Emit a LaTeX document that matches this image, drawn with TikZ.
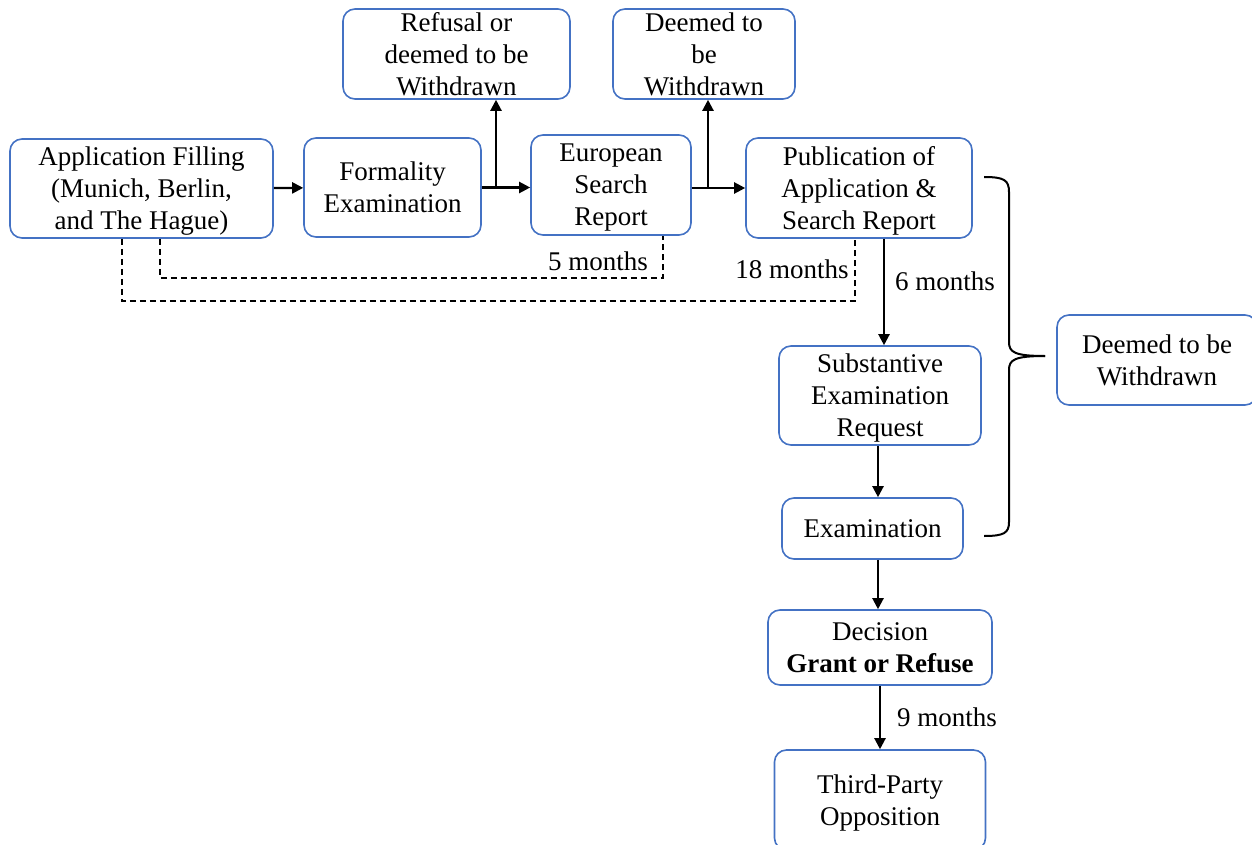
\documentclass[tikz,border=0pt]{standalone}
\usepackage{fontspec}
\setmainfont{Liberation Serif}
\usepackage{tikz}
\usetikzlibrary{positioning, arrows.meta, calc}
\usepackage{xcolor}
\definecolor{boxblue}{RGB}{68, 114, 196}

\begin{document}
\begin{tikzpicture}[
    x=0.5pt, y=-0.5pt,
    stage/.style={rectangle, rounded corners=6pt, draw=boxblue, line width=0.8pt, fill=white,
        align=center, inner sep=1pt, text depth=0pt, font=\fontsize{13.5}{16}\selectfont},
    arrow/.style={-{Triangle[length=5.5pt, width=5.5pt]}, line width=1.1pt},
    wait/.style={dashed, dash pattern=on 3pt off 2pt, line width=0.7pt},
    period/.style={font=\fontsize{13.5}{16}\selectfont, inner sep=1pt}
]
    \useasboundingbox (0,0) rectangle (1252,845);

    % Main row
    \node[stage, minimum width=131.5pt, minimum height=49.5pt] (app) at (141.5, 188.5) {Application Filling\\(Munich, Berlin,\\and The Hague)};
    \node[stage, minimum width=88.5pt, minimum height=49.5pt] (form) at (392.5, 187.5) {Formality\\Examination};
    \node[stage, minimum width=80pt, minimum height=50pt] (esr) at (611, 185) {European\\Search\\Report};
    \node[stage, minimum width=113pt, minimum height=50pt] (pub) at (859, 188) {Publication of\\Application \&\\Search Report};

    % Withdrawal boxes on top
    \node[stage, minimum width=113.5pt, minimum height=45pt] (refusal) at (456.5, 54) {Refusal or\\deemed to be\\Withdrawn};
    \node[stage, minimum width=91pt, minimum height=45pt] (deemA) at (704, 54) {Deemed to\\be\\Withdrawn};

    % Examination column
    \node[stage, minimum width=101pt, minimum height=49.5pt] (subst) at (880, 395.5) {Substantive\\Examination\\Request};
    \node[stage, minimum width=90.5pt, minimum height=30.5pt] (exam) at (872.5, 528.5) {Examination};
    \node[stage, minimum width=112pt, minimum height=37.5pt] (dec) at (880, 647.5) {Decision\\\textbf{Grant or Refuse}};
    \node[stage, minimum width=105.5pt, minimum height=50pt] (third) at (880, 800) {Third-Party\\Opposition};
    \node[stage, minimum width=100pt, minimum height=45pt] (deemB) at (1157, 360) {Deemed to be\\Withdrawn};

    % Connections - main row
    \draw[arrow] (app) -- (form);
    \coordinate (j1) at (496, 187.5);
    \draw[arrow] (form.east) -- (form.east -| esr.west);
    \draw[arrow] (j1) -- (j1 |- refusal.south);
    \coordinate (j2) at (708, 188);
    \draw[arrow] (pub.west -| esr.east) -- (pub.west);
    \draw[arrow] (j2) -- (j2 |- deemA.south);

    % Connections - down the column
    \draw[arrow] ([xshift=12.5pt]pub.south) -- ([xshift=12.5pt]pub.south |- subst.north)
        node[period, pos=0.4, right=4pt] (t6) {6 months};
    \draw[arrow] (subst.south -| 878, 0) -- (exam.north -| 878, 0);
    \draw[arrow] (exam.south -| 878, 0) -- (dec.north -| 878, 0);
    \draw[arrow] (dec) -- (third) node[period, midway, right=7pt] (t9) {9 months};

    % Time limits (dashed)
    \draw[wait] (app.south -| 160, 0) -- (160, 278) -- (663, 278) -- (esr.south -| 663, 0);
    \node[period] (t5) at (598, 261) {5 months};
    \draw[wait] (app.south -| 122, 0) -- (122, 301) -- (855, 301) -- (pub.south -| 855, 0);
    \node[period] (t18) at (792, 269) {18 months};

    % Brace to withdrawal
    \coordinate (tip) at (1045, 356);
    \draw[line width=1pt] (984, 177) .. controls (1004, 177) and (1009, 180) .. (1009, 192)
        -- (1009, 342) .. controls (1009, 352) and (1014, 356) .. (tip);
    \draw[line width=1pt] (tip) .. controls (1014, 356) and (1009, 360) .. (1009, 370)
        -- (1009, 522) .. controls (1009, 533) and (1004, 536) .. (984, 536);
\end{tikzpicture}
\end{document}
